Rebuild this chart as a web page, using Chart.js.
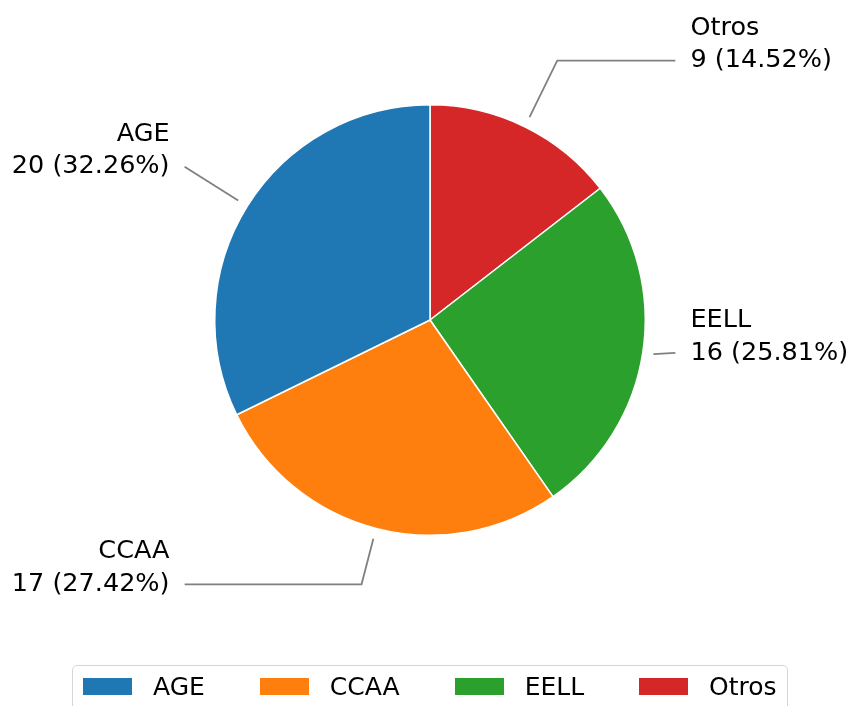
<!DOCTYPE html>
<html>
<head>
<meta charset="utf-8">
<script src="https://cdn.jsdelivr.net/npm/chart.js@4.4.0/dist/chart.umd.min.js"></script>
<style>
    html, body { margin: 0; padding: 0; background: #fff; overflow: hidden; }
    #wrap { position: relative; width: 849px; height: 706px; }
    #pie { position: absolute; left: 0; top: 0; }
    #legend {
        position: absolute; left: 72px; top: 665px; height: 52px;
        border: 1px solid #d6d6d6; border-radius: 5px;
        display: flex; align-items: center; padding: 0 10px 10px 10px; box-sizing: border-box;
        font-family: "DejaVu Sans", sans-serif; font-size: 25px; color: #000;
    }
    .legend-item { display: flex; align-items: center; margin-right: 55px; }
    .legend-item:last-child { margin-right: 0; }
    .legend-box { width: 49px; height: 17px; margin-right: 21px; }
</style>
</head>
<body>
<div id="wrap">
    <canvas id="pie" width="849" height="706"></canvas>
    <div id="legend"></div>
</div>
<script>
// Data
const categories = ['AGE', 'CCAA', 'EELL', 'Otros'];
const counts = [20, 17, 16, 9];
const colors = ['#1f77b4', '#ff7f0e', '#2ca02c', '#d62728'];

// label layout (vertical offset of each callout, in radii from centre)
const labelOffsetY = [-0.712, 1.228, 0.153, -1.205];

const total = counts.reduce((a, b) => a + b, 0);

// matplotlib draws counter-clockwise from the top, Chart.js clockwise -> reverse
const order = categories.map((_, i) => i).reverse();

const calloutPlugin = {
    id: 'callouts',
    afterDatasetsDraw(chart) {
        const ctx = chart.ctx;
        const meta = chart.getDatasetMeta(0);
        ctx.save();
        ctx.font = '25.5px "DejaVu Sans", sans-serif';
        ctx.textBaseline = 'middle';
        meta.data.forEach((arc, j) => {
            const i = order[j];
            const cx = arc.x, cy = arc.y, R = arc.outerRadius;
            const mid = (arc.startAngle + arc.endAngle) / 2;
            const dx = Math.cos(mid), dy = Math.sin(mid);
            const px = cx + 1.05 * R * dx, py = cy + 1.05 * R * dy;
            const right = dx >= 0;
            const ex = cx + (right ? 1.14 : -1.14) * R;
            const ey = cy + labelOffsetY[i] * R;
            // bend point along the radial direction at the label's height
            let t = Math.abs(dy) > 1e-6 ? (ey - py) / dy : 0;
            if (t < 0) t = 0;
            let bx = px + t * dx;
            const by = py + t * dy;
            if (right ? bx > ex : bx < ex) bx = ex;

            ctx.strokeStyle = '#808080';
            ctx.lineWidth = 1.8;
            ctx.beginPath();
            ctx.moveTo(px, py);
            ctx.lineTo(bx, by);
            ctx.lineTo(ex, ey);
            ctx.stroke();

            const pct = (counts[i] / total * 100).toFixed(2);
            const tx = cx + (right ? 1.21 : -1.21) * R;
            ctx.fillStyle = '#000';
            ctx.textAlign = right ? 'left' : 'right';
            ctx.fillText(categories[i], tx, ey - 32.5);
            ctx.fillText(counts[i] + ' (' + pct + '%)', tx, ey);
        });
        ctx.restore();
    }
};

new Chart(document.getElementById('pie'), {
    type: 'pie',
    data: {
        labels: order.map(i => categories[i]),
        datasets: [{
            data: order.map(i => counts[i]),
            backgroundColor: order.map(i => colors[i]),
            borderColor: '#ffffff',
            borderWidth: 1.5
        }]
    },
    options: {
        responsive: false,
        animation: false,
        devicePixelRatio: 1,
        layout: { padding: { left: 214, right: 203, top: 104, bottom: 170 } },
        plugins: {
            legend: { display: false },
            tooltip: { enabled: false }
        }
    },
    plugins: [calloutPlugin]
});

// Legend
const legend = document.getElementById('legend');
categories.forEach((name, i) => {
    const item = document.createElement('div');
    item.className = 'legend-item';
    item.innerHTML = `<div class="legend-box" style="background:${colors[i]}"></div><span>${name}</span>`;
    legend.appendChild(item);
});
</script>
</body>
</html>
